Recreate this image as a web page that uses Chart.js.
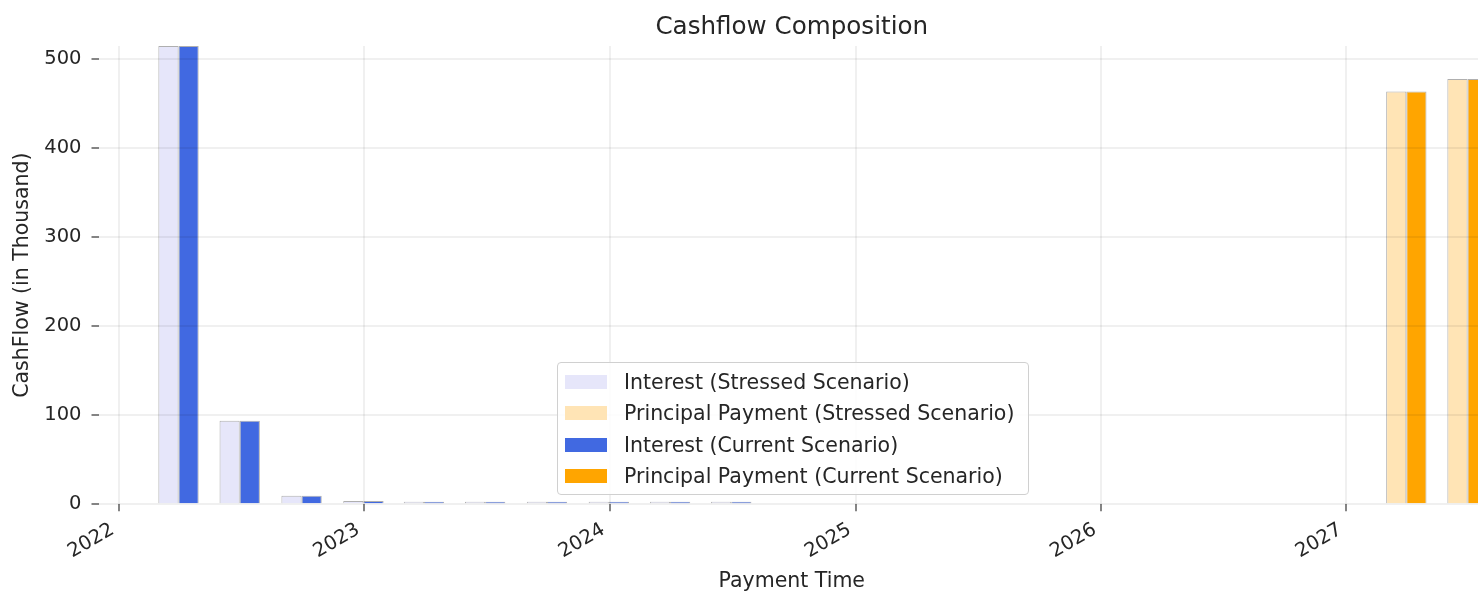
<!DOCTYPE html>
<html>
<head>
<meta charset="utf-8">
<script src="https://cdn.jsdelivr.net/npm/chart.js@4.4.1/dist/chart.umd.min.js"></script>
<style>
  html, body { margin: 0; padding: 0; overflow: hidden; background: #fff; }
  #wrap { position: relative; width: 1485px; height: 592px; }
  #legend {
    position: absolute; left: 557px; top: 362px; width: 470px; height: 131px;
    border: 1px solid #d0d0d0; border-radius: 4px; background: rgba(255,255,255,0.85);
    font-family: "DejaVu Sans", sans-serif; font-size: 20.5px; color: #262626;
  }
  #legend .row { position: absolute; left: 7px; height: 24px; display: flex; align-items: center; white-space: nowrap; }
  #legend .box { width: 42px; height: 14px; margin-right: 17px; }
</style>
</head>
<body>
<div id="wrap">
  <canvas id="cashChart"></canvas>
  <div id="legend"></div>
</div>
<script>
// payment dates and values (in thousand)
const interestDates = ["2022-03-31", "2022-06-30", "2022-09-30", "2022-12-31", "2023-03-31",
  "2023-06-30", "2023-09-30", "2023-12-31", "2024-03-31", "2024-06-30"];
const interestStressed = [514, 93.8, 9.6, 3.7, 1.4, 1.3, 1.2, 1.1, 1.0, 0.9];
const interestCurrent = [514, 93.8, 9.6, 3.7, 1.4, 1.3, 1.2, 1.1, 1.0, 0.9];

const principalDates = ["2027-03-31", "2027-06-30"];
const principalStressed = [463, 477];
const principalCurrent = [463, 477];

const tickYears = [2022, 2023, 2024, 2025, 2026, 2027];
const yTicks = [0, 100, 200, 300, 400, 500];

const FONT = "DejaVu Sans";
const TEXT = "#262626";

function toTime(d) {
  const p = d.split("-").map(Number);
  return Date.UTC(p[0], p[1] - 1, p[2]);
}

function points(dates, values) {
  return dates.map((d, i) => ({ x: toTime(d), y: values[i] }));
}

const edge = "rgba(110,110,110,0.55)";

const datasets = [
  { label: "Interest (Stressed Scenario)", data: points(interestDates, interestStressed),
    backgroundColor: "#E6E6FA", stack: "stressed" },
  { label: "Principal Payment (Stressed Scenario)", data: points(principalDates, principalStressed),
    backgroundColor: "#FFE4B5", stack: "stressed" },
  { label: "Interest (Current Scenario)", data: points(interestDates, interestCurrent),
    backgroundColor: "#4169E1", stack: "current" },
  { label: "Principal Payment (Current Scenario)", data: points(principalDates, principalCurrent),
    backgroundColor: "#FFA500", stack: "current" }
];
datasets.forEach(ds => {
  ds.borderColor = edge;
  ds.borderWidth = 1;
  ds.minBarLength = 2.5;
  ds.categoryPercentage = 2 / 3;
  ds.barPercentage = 1;
});

const gridColor = "rgba(0,0,0,0.06)";

const chart = new Chart(document.getElementById("cashChart"), {
  type: "bar",
  data: { datasets: datasets },
  options: {
    responsive: true,
    maintainAspectRatio: false,
    animation: false,
    layout: { padding: 0 },
    plugins: {
      legend: { display: false },
      tooltip: { enabled: false },
      title: {
        display: true,
        text: "Cashflow Composition",
        fullSize: false,
        color: TEXT,
        font: { family: FONT, size: 24.6, weight: "normal" },
        padding: { top: 13, bottom: 3.5 }
      }
    },
    scales: {
      x: {
        type: "linear",
        offset: false,
        min: toTime("2021-12-02"),
        max: toTime("2027-07-26"),
        grid: { offset: false, color: gridColor, lineWidth: 2, z: 1,
          tickColor: "#333", tickWidth: 1.2, tickLength: 7 },
        border: { display: false },
        afterBuildTicks: scale => {
          scale.ticks = tickYears.map(y => ({ value: Date.UTC(y, 0, 1) }));
        },
        afterFit: scale => { scale.height = 87.7; },
        ticks: {
          autoSkip: false,
          minRotation: 30,
          maxRotation: 30,
          padding: 7,
          labelOffset: -6,
          color: TEXT,
          font: { family: FONT, size: 19.5 },
          callback: value => String(new Date(value).getUTCFullYear())
        },
        title: {
          display: true,
          text: "Payment Time",
          color: TEXT,
          font: { family: FONT, size: 20.5, lineHeight: 1.0 },
          padding: { top: 0, bottom: 0 }
        }
      },
      y: {
        min: 0,
        max: 514,
        grid: { color: gridColor, lineWidth: 2, z: 1,
          tickColor: "#333", tickWidth: 1.2, tickLength: 7 },
        border: { display: false },
        afterBuildTicks: scale => {
          scale.ticks = yTicks.map(v => ({ value: v }));
        },
        afterFit: scale => { scale.width = 98.5; },
        ticks: {
          padding: 10,
          color: TEXT,
          font: { family: FONT, size: 19.5 }
        },
        title: {
          display: true,
          text: "CashFlow (in Thousand)",
          color: TEXT,
          font: { family: FONT, size: 20.5 },
          padding: { top: 10, bottom: 0 }
        }
      }
    }
  }
});

// legend drawn as html, built from the chart datasets
const legendEl = document.getElementById("legend");
chart.data.datasets.forEach((ds, i) => {
  const row = document.createElement("div");
  row.className = "row";
  row.style.top = (7 + i * 31.4) + "px";
  const box = document.createElement("span");
  box.className = "box";
  box.style.background = ds.backgroundColor;
  const txt = document.createElement("span");
  txt.textContent = ds.label;
  row.appendChild(box);
  row.appendChild(txt);
  legendEl.appendChild(row);
});
</script>
</body>
</html>
